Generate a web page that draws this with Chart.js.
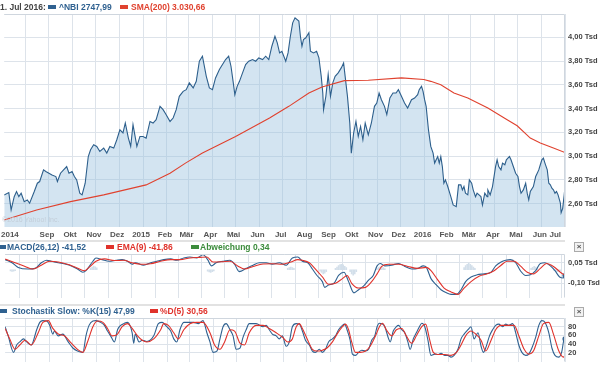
<!DOCTYPE html>
<html lang="de">
<head>
<meta charset="UTF-8">
<title>^NBI 1. Jul 2016</title>
<script src="https://cdn.jsdelivr.net/npm/chart.js@4.4.1/dist/chart.umd.min.js"></script>
<style>
  body { margin: 0; background: #fff; }
  #wrap { position: relative; width: 600px; height: 369px; overflow: hidden;
          font-family: "Liberation Sans", Arial, sans-serif; font-weight: bold; font-size: 8.5px; }
  canvas { position: absolute; left: 0; }
  .t { position: absolute; white-space: nowrap; line-height: 10px; }
  .sw { position: absolute; width: 8px; height: 4px; }
  .sep { position: absolute; left: 0; width: 565px; height: 2px; background: #e2e2e2; }
  .x { position: absolute; left: 574px; width: 8px; height: 8px; border: 1px solid #aaa; background: #f2f2f2;
       color: #555; font-size: 8px; line-height: 8px; text-align: center; }
</style>
</head>
<body>
<div id="wrap">
  <canvas id="mainChart" width="600" height="241" style="top:0"></canvas>
  <canvas id="macdChart" width="600" height="64" style="top:241px"></canvas>
  <canvas id="stochChart" width="600" height="64" style="top:305px"></canvas>

  <!-- legends -->
  <div class="t" style="left:0;top:2px;color:#444">1. Jul 2016:</div>
  <div class="sw" style="left:48px;top:5px;background:#2f6190"></div>
  <div class="t" style="left:59px;top:2px;color:#2f6190">^NBI 2747,99</div>
  <div class="sw" style="left:120px;top:5px;background:#e0422f"></div>
  <div class="t" style="left:131px;top:2px;color:#e0422f">SMA(200) 3.030,66</div>
  <div class="t" style="left:2px;top:215px;color:#c3ced9;font-weight:normal;font-size:7px">©2016 Yahoo! Inc.</div>

  <div class="sep" style="top:240px"></div>
  <div class="sw" style="left:-2px;top:245px;background:#2f6190"></div>
  <div class="t" style="left:7px;top:242px;color:#2f6190">MACD(26,12) -41,52</div>
  <div class="sw" style="left:106px;top:245px;background:#e0322b"></div>
  <div class="t" style="left:117px;top:242px;color:#e0322b">EMA(9) -41,86</div>
  <div class="sw" style="left:191px;top:245px;background:#3c8c3c"></div>
  <div class="t" style="left:200px;top:242px;color:#3c8c3c">Abweichung 0,34</div>
  <div class="x" style="top:242px">×</div>

  <div class="sep" style="top:304px"></div>
  <div class="sw" style="left:-1px;top:309px;background:#2f6190"></div>
  <div class="t" style="left:12px;top:306px;color:#2f6190">Stochastik Slow: %K(15) 47,99</div>
  <div class="sw" style="left:150px;top:309px;background:#e0322b"></div>
  <div class="t" style="left:160px;top:306px;color:#e0322b">%D(5) 30,56</div>
  <div class="x" style="top:307px">×</div>
</div>

<script>
// x values are days since 1 Aug 2014
const tickDays = [-17, 0, 31, 61, 92, 122, 153, 184, 212, 243, 273, 304, 334, 365, 396, 426, 457, 487, 518, 549, 578, 609, 639, 670, 690, 700];
const tickLabels = ['2014', '', 'Sep', 'Okt', 'Nov', 'Dez', '2015', 'Feb', 'Mär', 'Apr', 'Mai', 'Jun', 'Jul',
                    'Aug', 'Sep', 'Okt', 'Nov', 'Dez', '2016', 'Feb', 'Mär', 'Apr', 'Mai', 'Jun', 'Jul', ''];
const tickGrid = tickLabels.map((l, i) => i !== 0 && i !== 24);

const priceTicks = [2600, 2800, 3000, 3200, 3400, 3600, 3800, 4000];
const macdTicks = [50, -100];
const stochTicks = [20, 40, 60, 80];

// ^NBI close
const nbi = [[-27,2673],[-21,2694],[-18,2548],[-14,2660],[-11,2703],[-8,2660],[-5,2689],[-1,2618],[3,2633],[6,2605],
  [12,2703],[16,2773],[19,2787],[24,2885],[27,2871],[31,2857],[35,2843],[40,2829],[42,2787],[46,2857],[50,2885],
  [54,2913],[57,2857],[61,2871],[64,2829],[67,2801],[71,2689],[74,2675],[78,2773],[82,2997],[85,3054],[89,3096],
  [93,3082],[97,3040],[102,3068],[106,3026],[110,3082],[115,3068],[119,3138],[123,3222],[127,3195],[130,3279],
  [134,3152],[137,3082],[140,3265],[145,3082],[149,3166],[153,3166],[157,3152],[162,3292],[166,3279],[170,3307],
  [175,3419],[179,3391],[183,3349],[188,3292],[192,3321],[196,3391],[200,3503],[205,3545],[209,3559],[213,3616],
  [218,3574],[222,3629],[226,3798],[230,3840],[235,3671],[239,3574],[243,3559],[247,3658],[252,3728],[256,3770],
  [260,3812],[264,3840],[267,3756],[270,3616],[272,3517],[275,3587],[278,3629],[282,3700],[286,3770],[290,3798],
  [295,3812],[299,3798],[303,3826],[308,3812],[312,3840],[316,3812],[320,3924],[324,4008],[327,3953],[330,3868],
  [333,3882],[338,3798],[341,3868],[344,4008],[347,4121],[350,4163],[355,4135],[357,4008],[359,3924],[361,3981],
  [364,3995],[368,4037],[370,3882],[374,3868],[378,3882],[381,3826],[384,3671],[386,3531],[387,3391],[390,3503],
  [393,3686],[396,3503],[399,3616],[402,3671],[406,3700],[410,3742],[413,3784],[415,3671],[418,3503],[421,3279],
  [423,3026],[426,3195],[429,3292],[432,3166],[435,3250],[438,3138],[441,3279],[445,3180],[449,3279],[453,3419],
  [456,3447],[459,3531],[462,3475],[466,3419],[469,3349],[473,3489],[477,3531],[481,3531],[484,3559],[488,3503],
  [492,3447],[496,3405],[501,3475],[505,3489],[509,3517],[511,3559],[514,3587],[516,3545],[518,3475],[520,3419],
  [523,3222],[526,3082],[529,3026],[531,2942],[533,2970],[535,2997],[537,2942],[539,2997],[541,2913],[543,2773],
  [545,2801],[548,2745],[552,2660],[555,2590],[559,2576],[562,2759],[565,2759],[567,2717],[569,2745],[571,2689],
  [574,2675],[576,2801],[579,2773],[581,2717],[584,2660],[586,2689],[591,2660],[593,2590],[596,2689],[599,2660],
  [600,2717],[603,2675],[606,2745],[608,2829],[610,2913],[612,2970],[614,2913],[617,2885],[619,2942],[622,2928],
  [624,2970],[626,2984],[628,2997],[630,2970],[633,2913],[636,2857],[639,2829],[641,2745],[643,2689],[646,2717],
  [649,2773],[651,2689],[653,2633],[655,2703],[659,2745],[662,2829],[664,2857],[666,2885],[668,2928],[670,2970],
  [672,2984],[674,2942],[677,2885],[679,2773],[681,2759],[683,2731],[685,2717],[687,2689],[689,2703],[691,2675],
  [694,2605],[695,2526],[697,2562],[699,2675],[700,2748]];

// SMA(200)
const sma200 = [[-27,2463],[15,2548],[59,2618],[102,2675],[157,2759],[188,2857],[208,2942],[230,3026],[273,3166],
  [317,3321],[342,3419],[368,3531],[385,3582],[414,3635],[445,3638],[488,3658],[517,3644],[526,3629],[539,3601],
  [556,3531],[574,3489],[600,3405],[625,3307],[638,3256],[655,3152],[668,3110],[685,3068],[700,3031]];

// MACD(26,12)
const macd = [[-27,74],[-18,51],[-10,17],[3,5],[12,10],[20,51],[27,69],[33,62],[42,51],[52,40],[59,28],[67,5],
  [74,-18],[78,-7],[87,62],[91,86],[99,74],[108,62],[117,69],[125,74],[132,62],[138,40],[142,51],[153,33],[162,51],
  [170,62],[179,74],[188,79],[196,69],[205,86],[213,93],[222,86],[230,109],[236,74],[241,28],[247,51],[256,62],
  [265,69],[271,40],[277,-14],[286,10],[295,33],[303,51],[312,51],[320,40],[329,51],[338,33],[346,86],[353,93],
  [359,62],[366,51],[372,5],[378,-42],[385,-87],[388,-129],[393,-111],[400,-99],[406,-42],[413,-18],[419,-87],
  [426,-169],[432,-146],[438,-122],[445,-76],[451,-42],[456,28],[460,46],[466,28],[475,33],[484,46],[492,24],
  [501,5],[509,10],[516,28],[520,17],[526,-65],[533,-111],[539,-146],[546,-169],[552,-180],[559,-180],[565,-146],
  [571,-87],[578,-53],[586,-37],[595,-30],[604,-18],[610,28],[617,56],[623,69],[629,74],[636,51],[642,-7],
  [649,-42],[655,-37],[662,-7],[668,46],[674,51],[681,28],[687,-7],[693,-53],[698,-60],[700,-42]];

// EMA(9) signal
const ema9 = [[-27,79],[-14,51],[-1,24],[9,5],[20,33],[31,62],[42,56],[54,40],[65,17],[76,-7],[82,17],[91,62],
  [102,79],[115,67],[127,69],[138,51],[149,40],[162,44],[175,62],[188,74],[200,74],[213,86],[226,90],[235,93],
  [243,56],[254,58],[265,62],[275,28],[284,5],[295,24],[308,42],[320,44],[333,40],[344,56],[353,74],[359,69],
  [368,51],[376,5],[385,-53],[393,-106],[402,-99],[411,-65],[417,-42],[423,-99],[432,-134],[441,-129],[449,-87],
  [456,-30],[462,24],[471,40],[484,40],[496,24],[509,10],[520,17],[526,-7],[535,-76],[543,-134],[552,-162],
  [561,-180],[569,-134],[578,-87],[589,-46],[599,-30],[608,-7],[617,33],[625,62],[634,62],[642,28],[651,-18],
  [659,-30],[668,10],[676,46],[685,24],[694,-18],[700,-42]];

// Abweichung (MACD - EMA)
const macdHist = [[-20,-8],[-18,-12],[-16,-10],[-14,-6],[84,12],[86,20],[88,26],[90,22],[92,14],
  [236,-10],[238,-16],[240,-20],[242,-14],[244,-8],[276,-8],[278,-12],[280,-8],
  [340,10],[342,16],[344,20],[346,16],[348,10],[382,-10],[384,-20],[386,-30],[388,-25],[390,-15],
  [402,10],[404,20],[406,30],[408,38],[410,40],[412,35],[414,25],[416,15],
  [421,-15],[423,-30],[425,-40],[427,-30],[429,-15],[456,10],[458,18],[460,22],[462,20],[464,15],[466,8],
  [569,15],[571,30],[573,40],[575,46],[577,40],[579,30],[581,20],[583,10],
  [656,10],[658,18],[660,24],[662,20],[664,10],[686,-6],[688,-10],[690,-14],[692,-10],[694,-6]];

// Stochastik Slow %K(15)
const stochK = [[-27,80],[-23,59],[-16,21],[-12,38],[-8,45],[-3,52],[1,45],[7,38],[14,73],[18,90],[22,94],[27,93],
  [31,83],[35,63],[37,70],[42,59],[48,63],[55,45],[61,31],[67,24],[74,21],[78,59],[82,83],[87,93],[91,94],[97,90],
  [102,83],[106,70],[110,59],[115,45],[119,73],[123,83],[127,87],[132,90],[138,66],[140,42],[142,63],[147,45],
  [151,49],[157,46],[166,59],[172,87],[177,90],[183,80],[188,70],[192,52],[196,45],[200,73],[205,90],[211,90],
  [218,90],[224,87],[230,94],[235,66],[239,45],[243,21],[248,24],[252,52],[256,80],[260,87],[265,73],[269,59],
  [273,28],[278,31],[282,56],[286,73],[290,87],[299,87],[308,80],[312,83],[316,73],[320,63],[325,59],[329,52],
  [333,59],[338,35],[342,45],[346,80],[351,87],[355,86],[359,70],[363,49],[368,38],[372,24],[376,21],[381,28],
  [385,21],[389,28],[393,45],[398,52],[402,59],[406,73],[411,83],[414,86],[417,73],[421,49],[424,17],[428,14],
  [432,21],[436,26],[441,24],[445,28],[449,49],[453,59],[456,80],[459,88],[462,87],[466,80],[471,52],[473,45],
  [477,70],[481,80],[484,83],[488,73],[492,66],[496,45],[499,28],[503,52],[507,66],[511,80],[514,88],[518,80],
  [522,49],[526,14],[531,17],[535,16],[539,19],[544,14],[548,14],[552,10],[556,14],[561,28],[565,52],[569,63],
  [574,73],[578,80],[582,52],[587,66],[591,35],[594,21],[597,31],[602,59],[606,73],[610,83],[614,86],[619,80],
  [623,86],[627,83],[632,87],[636,66],[640,38],[644,21],[649,14],[653,17],[657,31],[662,56],[666,83],[670,94],
  [674,90],[679,66],[683,31],[687,14],[692,10],[696,24],[698,45],[700,52]];

// Stochastik Slow %D(5)
const stochD = [[-27,76],[-21,52],[-14,28],[-8,38],[-1,49],[7,38],[16,66],[22,90],[29,94],[35,76],[42,63],[50,59],
  [59,42],[67,28],[74,21],[80,45],[87,80],[93,93],[100,90],[106,76],[112,59],[119,63],[125,80],[132,87],[138,76],
  [145,59],[151,49],[157,45],[166,52],[175,73],[179,87],[185,83],[192,66],[198,52],[205,73],[213,87],[222,90],
  [230,90],[239,66],[245,38],[252,28],[258,45],[265,73],[271,70],[278,42],[284,38],[290,66],[299,83],[308,83],
  [316,76],[325,66],[333,56],[340,45],[346,52],[351,80],[355,87],[359,76],[366,49],[372,28],[378,24],[385,26],
  [391,31],[398,45],[404,63],[411,80],[415,86],[419,73],[423,45],[428,21],[434,21],[441,24],[447,35],[454,59],
  [459,80],[463,88],[468,73],[475,59],[481,73],[488,76],[494,59],[501,42],[507,59],[514,80],[519,86],[524,52],
  [529,21],[535,16],[544,16],[552,14],[559,21],[565,38],[571,59],[578,70],[584,63],[591,49],[597,24],[604,49],
  [610,73],[617,83],[625,83],[634,83],[640,59],[647,28],[653,17],[659,24],[666,59],[672,87],[679,90],[685,63],
  [692,24],[698,10],[700,14]];

const xy = arr => arr.map(([x, y]) => ({ x, y }));
const gridCol = '#dde3ea';
const tickFont = { family: '"Liberation Sans", Arial, sans-serif', size: 8, weight: 'bold' };
const axisFont = { family: '"Liberation Sans", Arial, sans-serif', size: 7.5, weight: 'bold' };
Chart.defaults.animation = false;

// frame round the plot area
const frame = {
  id: 'frame',
  afterDraw(chart) {
    const { ctx, chartArea: a } = chart;
    ctx.save();
    ctx.strokeStyle = '#cfd6de';
    ctx.lineWidth = 1;
    ctx.beginPath();
    ctx.moveTo(a.left, a.top + 0.5);
    ctx.lineTo(a.right - 0.5, a.top + 0.5);
    ctx.lineTo(a.right - 0.5, a.bottom);
    ctx.stroke();
    ctx.restore();
  }
};

function xScale(showLabels, height) {
  return {
    type: 'linear', min: -27, max: 700, offset: false,
    afterBuildTicks: s => { s.ticks = tickDays.map(v => ({ value: v })); },
    afterFit: s => { s.height = height; },
    grid: { color: c => tickGrid[c.index] ? gridCol : 'rgba(0,0,0,0)', lineWidth: 1, drawTicks: false },
    border: { display: false },
    ticks: { display: showLabels, autoSkip: false, maxRotation: 0, padding: 3, labelOffset: -2,
             color: '#555', font: tickFont, callback: (v, i) => tickLabels[i] }
  };
}

function yScale(min, max, ticks, fmt) {
  return {
    position: 'right', min, max,
    afterBuildTicks: s => { s.ticks = ticks.map(v => ({ value: v })); },
    afterFit: s => { s.width = 35; },
    grid: { color: gridCol, lineWidth: 1, drawTicks: false },
    border: { display: false },
    ticks: { padding: 3, color: '#444', font: axisFont, callback: fmt }
  };
}

const tsd = v => (v / 1000).toFixed(2).replace('.', ',') + ' Tsd';
const endDot = n => c => c.dataIndex === n - 1 ? 2 : 0;

new Chart(document.getElementById('mainChart'), {
  type: 'line',
  data: {
    datasets: [
      { label: 'SMA(200)', data: xy(sma200), borderColor: '#e0422f', borderWidth: 1.1, pointRadius: 0, fill: false },
      { label: '^NBI', data: xy(nbi), borderColor: '#2d5f8c', borderWidth: 1.1, pointRadius: 0,
        fill: 'start', backgroundColor: 'rgba(150,190,222,0.42)' }
    ]
  },
  options: {
    responsive: false, devicePixelRatio: 1,
    layout: { padding: { top: 14, left: 0, right: 0, bottom: 0 } },
    plugins: { legend: { display: false }, tooltip: { enabled: false } },
    scales: { x: xScale(true, 14), y: yScale(2405, 4195, priceTicks, tsd) }
  },
  plugins: [frame]
});

new Chart(document.getElementById('macdChart'), {
  type: 'line',
  data: {
    datasets: [
      { label: 'EMA(9)', data: xy(ema9), borderColor: '#e0322b', borderWidth: 1.1, pointRadius: 0,
        cubicInterpolationMode: 'monotone' },
      { label: 'MACD(26,12)', data: xy(macd), borderColor: '#2f6190', backgroundColor: '#2f6190', borderWidth: 1.1,
        pointRadius: endDot(macd.length), cubicInterpolationMode: 'monotone' },
      { type: 'bar', label: 'Abweichung', data: xy(macdHist), backgroundColor: '#d3dfea', barThickness: 1,
        grouped: false }
    ]
  },
  options: {
    responsive: false, devicePixelRatio: 1,
    layout: { padding: { top: 13, left: 0, right: 0, bottom: 0 } },
    plugins: { legend: { display: false }, tooltip: { enabled: false } },
    scales: { x: xScale(false, 5), y: yScale(-203, 115, macdTicks, tsd) }
  },
  plugins: [frame]
});

new Chart(document.getElementById('stochChart'), {
  type: 'line',
  data: {
    datasets: [
      { label: '%D(5)', data: xy(stochD), borderColor: '#e0322b', borderWidth: 1.1, pointRadius: 0,
        cubicInterpolationMode: 'monotone' },
      { label: '%K(15)', data: xy(stochK), borderColor: '#2f6190', backgroundColor: '#2f6190', borderWidth: 1.1,
        pointRadius: endDot(stochK.length), cubicInterpolationMode: 'monotone' }
    ]
  },
  options: {
    responsive: false, devicePixelRatio: 1,
    layout: { padding: { top: 13, left: 0, right: 0, bottom: 0 } },
    plugins: { legend: { display: false }, tooltip: { enabled: false } },
    scales: { x: xScale(false, 2), y: yScale(0, 100, stochTicks, v => String(v)) }
  },
  plugins: [frame]
});
</script>
</body>
</html>
